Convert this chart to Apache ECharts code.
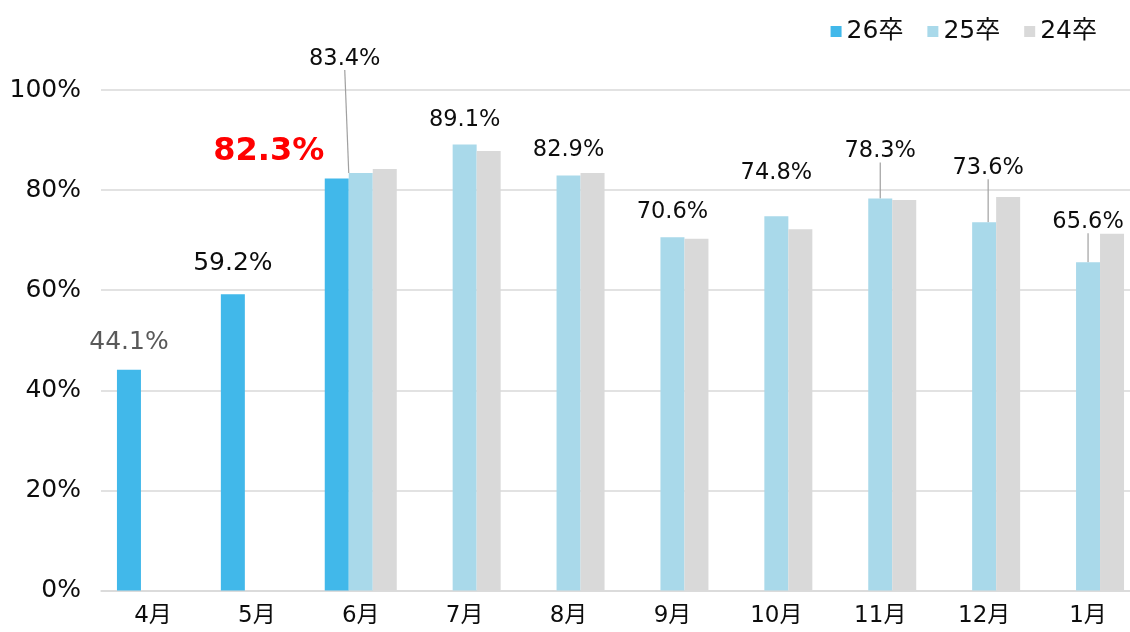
<!DOCTYPE html>
<html>
<head>
<meta charset="utf-8">
<script src="https://cdn.jsdelivr.net/npm/echarts@6/dist/echarts.min.js"></script>
<style>
html,body{margin:0;padding:0;background:#fff;}
#c{width:1130px;height:632px;}
</style>
</head>
<body>
<div id="c"></div>
<script>
const months = ['4月','5月','6月','7月','8月','9月','10月','11月','12月','1月'];
const s26 = [44.1, 59.2, 82.3, null, null, null, null, null, null, null];
const s25 = [null, null, 83.4, 89.1, 82.9, 70.6, 74.8, 78.3, 73.6, 65.6];
const s24 = [null, null, 84.2, 87.8, 83.4, 70.3, 72.2, 78.0, 78.6, 71.3];
const yTicks = [0, 20, 40, 60, 80, 100];

const FONT = '"DejaVu Sans","Noto Sans CJK JP",sans-serif';

// label placement (styling only)
const shift25 = {2:[-16,-98],3:[0,-8],4:[0,-9],5:[0,-9],6:[0,-27],7:[0,-31],8:[4,-38],9:[0,-24]};
const lines25 = [2,7,8,9];
const shift26 = {0:[0,-10],1:[0,-13],2:[-68,-6]};

const chart = echarts.init(document.getElementById('c'), null, {renderer:'canvas'});

const d26 = s26.map((v,i)=>{
  const item = {value:v};
  if (i===0) item.label = {color:'#595959', fontSize:25};
  if (i===1) item.label = {color:'#0d0d0d', fontSize:25};
  if (i===2) item.label = {color:'#ff0000', fontSize:32, fontWeight:'bold'};
  return item;
});
const d25 = s25.map((v,i)=>({value:v, labelLine:{show: lines25.indexOf(i)>=0}}));

chart.setOption({
  animation:false,
  textStyle:{fontFamily:FONT},
  legend:{
    right:28, top:14, itemWidth:11, itemHeight:11, itemGap:24, icon:'rect',
    textStyle:{fontSize:25, color:'#0d0d0d', fontFamily:FONT},
    data:['26卒','25卒','24卒']
  },
  grid:{left:101, top:90, bottom:41.5, width:1039, containLabel:false, outerBoundsMode:'none'},
  xAxis:{
    type:'category', data:months,
    axisLine:{lineStyle:{color:'#d9d9d9', width:1.5}},
    axisTick:{show:false},
    axisLabel:{fontSize:23, color:'#0d0d0d', margin:14, fontFamily:FONT}
  },
  yAxis:{
    type:'value', min:yTicks[0], max:yTicks[yTicks.length-1], interval:20,
    axisLine:{show:false}, axisTick:{show:false},
    axisLabel:{formatter:'{value}%', fontSize:25, color:'#0d0d0d', margin:20, fontFamily:FONT},
    splitLine:{lineStyle:{color:'#d9d9d9', width:1.5}}
  },
  series:[
    {
      name:'26卒', type:'bar', data:d26, barWidth:24, barGap:'0%',
      itemStyle:{color:'#41b8ea'},
      label:{show:true, position:'top', distance:5, formatter:p=>p.value.toFixed(1)+'%', fontFamily:FONT},
      labelLayout:p=>{const s=shift26[p.dataIndex]; return s?{dx:s[0],dy:s[1]}:{};}
    },
    {
      name:'25卒', type:'bar', data:d25, barWidth:24, barGap:'0%',
      itemStyle:{color:'#a9d9ea'},
      label:{show:true, position:'top', distance:5, fontSize:22.5, color:'#0d0d0d', fontFamily:FONT,
        formatter:p=>p.value.toFixed(1)+'%'},
      labelLine:{show:false, lineStyle:{color:'#a0a0a0', width:1.2}},
      labelLayout:p=>{const s=shift25[p.dataIndex]; return s?{dx:s[0],dy:s[1]}:{};}
    },
    {
      name:'24卒', type:'bar', data:s24, barWidth:24, barGap:'0%',
      itemStyle:{color:'#d9d9d9'}
    }
  ]
});
</script>
</body>
</html>
